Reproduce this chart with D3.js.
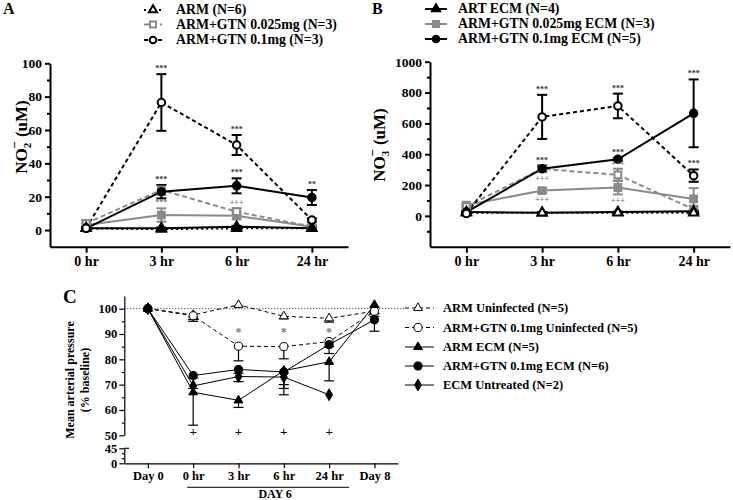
<!DOCTYPE html>
<html>
<head>
<meta charset="utf-8">
<script src="https://cdn.jsdelivr.net/npm/d3@7"></script>
<style>
body { margin: 0; background: #fff; }
svg, svg text { font-family: "Liberation Serif", "Times New Roman", serif; font-weight: bold; }
</style>
</head>
<body>
<svg id="chart" width="733" height="500"></svg>
<script>
// categories
const hoursAB = ['0 hr', '3 hr', '6 hr', '24 hr'];
const daysC = ['Day 0', '0 hr', '3 hr', '6 hr', '24 hr', 'Day 8'];

// legend labels
const legendA = ['ARM (N=6)', 'ARM+GTN 0.025mg (N=3)', 'ARM+GTN 0.1mg (N=3)'];
const legendB = ['ART ECM (N=4)', 'ARM+GTN 0.025mg ECM (N=3)', 'ARM+GTN 0.1mg ECM (N=5)'];
const legendC = ['ARM Uninfected (N=5)', 'ARM+GTN 0.1mg Uninfected (N=5)', 'ARM ECM (N=5)',
    'ARM+GTN 0.1mg ECM (N=6)', 'ECM Untreated (N=2)'];

// panel A - nitrite (uM), mean / sem
const no2Arm = [1, 0.5, 1, 1];
const no2ArmErr = [0.5, 0.5, 0.5, 0.5];
const no2Gtn025 = [4, 24, 11, 2];
const no2Gtn025Err = [2, 3, 2, 1];
const no2Gtn01 = [1, 76.5, 51, 6];
const no2Gtn01Err = [0.5, 17, 6, 1];
const no2ArmEcm = [1, 1, 2, 1];
const no2ArmEcmErr = [0.5, 0.5, 0.5, 0.5];
const no2Gtn025Ecm = [3, 9, 8.5, 2];
const no2Gtn025EcmErr = [1, 4, 2, 1];
const no2Gtn01Ecm = [1, 23, 26.5, 19.5];
const no2Gtn01EcmErr = [0.5, 4, 4.5, 4.5];

// panel B - nitrate (uM), mean / sem
const no3Arm = [20, 20, 20, 20];
const no3ArmErr = [3, 3, 3, 3];
const no3Gtn025 = [60, 305, 266, 43];
const no3Gtn025Err = [10, 20, 40, 20];
const no3Gtn01 = [15, 642, 713, 261];
const no3Gtn01Err = [5, 143, 80, 40];
const no3ArmEcm = [25, 20, 25, 30];
const no3ArmEcmErr = [3, 3, 3, 3];
const no3Gtn025Ecm = [70, 164, 184, 110];
const no3Gtn025EcmErr = [10, 15, 45, 70];
const no3Gtn01Ecm = [25, 306, 367, 665];
const no3Gtn01EcmErr = [5, 20, 10, 220];

// significance marks
const sigA01Up = ['', '***', '***', ''];
const sigA01EcmUp = ['', '***', '***', '**'];
const sigA025EcmUp = ['', '***', '', ''];
const sigA025Up = ['', '', '+++', ''];
const sigB01Up = ['', '***', '***', '***'];
const sigB01EcmUp = ['', '***', '***', '***'];
const sigB01EcmDown = ['', '+++', '', ''];
const sigB025Up = ['', '', '+++', ''];
const sigB025EcmDown = ['', '+++', '+++', ''];

// panel C - mean arterial pressure (% baseline), mean / sem (lower bar only)
const mapArm = [100, 97.5, 101.5, 97, 96.2, 99];
const mapArmErr = [0, 2.5, 0.5, 1, 1.5, 1];
const mapGtn01 = [100, 97.2, 85.2, 85, 87, 99];
const mapGtn01Err = [0, 1.5, 5.8, 4.8, 2, 2];
const mapArmEcm = [100, 67, 63.8, 75.5, 79, 101.5];
const mapArmEcmErr = [0, 13, 2.8, 7, 7.5, 1];
const mapGtn01Ecm = [100, 73.6, 76, 75, 85.8, 95.6];
const mapGtn01EcmErr = [0, 1, 1.5, 5, 3.5, 4.5];
const mapUntreated = [100, 69.5, 73.2, 73, 66, null];
const mapUntreatedErr = [0, 1, 2, 7, 0, null];
const sigCStar = ['', '', '*', '*', '*', ''];
const sigCPlus = ['', '+', '+', '+', '+', ''];

const GRAY = '#8a8a8a';
const styles = {
    armUninf: {symbol: d3.symbolTriangle, color: '#000', open: true, dash: '2,3'},
    gtn025Uninf: {symbol: d3.symbolSquare, color: GRAY, open: true, dash: '5,3'},
    gtn01Uninf: {symbol: d3.symbolCircle, color: '#000', open: true, dash: '4,3'},
    armEcm: {symbol: d3.symbolTriangle, color: '#000', open: false, dash: null},
    gtn025Ecm: {symbol: d3.symbolSquare, color: GRAY, open: false, dash: null},
    gtn01Ecm: {symbol: d3.symbolCircle, color: '#000', open: false, dash: null},
    untreated: {symbol: d3.symbolDiamond, color: '#000', open: false, dash: null},
};

// symbol areas per shape, so shapes look about equal in size
const sizeAB = s => (s === d3.symbolTriangle ? 36 : s === d3.symbolSquare ? 46 : 44);
const sizeC = s => (s === d3.symbolTriangle ? 34 : s === d3.symbolDiamond ? 40 : 52);

const svg = d3.select('#chart');

const addMarker = (g, style, x, y, size, sw) => g.append('path')
    .attr('d', d3.symbol().type(style.symbol).size(size)())
    .attr('transform', `translate(${x},${y})`)
    .attr('fill', style.open ? '#fff' : style.color)
    .attr('stroke', style.color)
    .attr('stroke-width', sw);

const styleAxis = (g, sw, fontSize) => {
    g.attr('font-family', null).attr('font-size', fontSize);
    g.selectAll('path, line').attr('stroke', '#000').attr('stroke-width', sw);
    g.selectAll('text').attr('font-size', fontSize).attr('fill', '#000');
};

/**
 * panels A and B
 * */
const drawTimePanel = (cfg) => {
    const g = svg.append('g');
    const x = d3.scalePoint().domain(hoursAB).range(cfg.xRange).padding(0.48);
    const y = d3.scaleLinear().domain(cfg.yDomain).range(cfg.yRange);

    g.append('g').attr('transform', `translate(0,${cfg.yRange[0]})`)
        .call(d3.axisBottom(x).tickSize(6).tickSizeOuter(0).tickPadding(3))
        .call(a => styleAxis(a, 2, 14));
    g.append('g').attr('transform', `translate(${cfg.xRange[0]},0)`)
        .call(d3.axisLeft(y).tickValues(cfg.ticks).tickFormat(d3.format('d'))
            .tickSize(5).tickSizeOuter(0).tickPadding(3))
        .call(a => styleAxis(a, 2, 13.5));
    g.append('g').attr('transform', `translate(${cfg.xRange[0]},0)`)
        .call(d3.axisLeft(y).tickValues(cfg.minor).tickSize(3).tickFormat(''))
        .call(a => a.select('.domain').remove())
        .call(a => styleAxis(a, 2, 13));

    const line = d3.line().x((d, i) => x(hoursAB[i])).y(d => y(d));
    cfg.series.forEach((s) => {
        g.append('path').datum(s.mean).attr('d', line)
            .attr('fill', 'none').attr('stroke', s.style.color)
            .attr('stroke-width', 2).attr('stroke-dasharray', s.style.dash);
    });
    cfg.series.forEach((s) => {
        s.mean.forEach((m, i) => {
            const cx = x(hoursAB[i]);
            const e = s.err[i];
            const eg = g.append('g').attr('stroke', s.style.color).attr('stroke-width', 2);
            eg.append('line').attr('x1', cx).attr('x2', cx).attr('y1', y(m - e)).attr('y2', y(m + e));
            [m - e, m + e].forEach(v => eg.append('line')
                .attr('x1', cx - 5).attr('x2', cx + 5).attr('y1', y(v)).attr('y2', y(v)));
        });
    });
    cfg.series.forEach((s) => {
        s.mean.forEach((m, i) => addMarker(g, s.style, x(hoursAB[i]), y(m), sizeAB(s.style.symbol), 2));
    });
    cfg.sigs.forEach((sg) => {
        sg.labels.forEach((t, i) => {
            if (!t) return;
            const m = sg.series.mean[i];
            const e = sg.series.err[i];
            const yy = sg.up ? y(m + e) - 3 : y(m - e) + 9;
            g.append('text').attr('x', x(hoursAB[i])).attr('y', yy)
                .attr('text-anchor', 'middle').attr('font-size', 8).attr('font-weight', 'normal')
                .attr('fill', sg.color).text(t);
        });
    });

    // y label
    const lab = g.append('text').attr('transform', `translate(${cfg.labelX},${cfg.labelY}) rotate(-90)`)
        .attr('text-anchor', 'middle').attr('font-size', 17);
    lab.append('tspan').text('NO');
    lab.append('tspan').attr('font-size', 11).attr('dy', 4).text(cfg.sub);
    lab.append('tspan').attr('font-size', 13).attr('dx', -6).attr('dy', -12).text('−');
    lab.append('tspan').attr('dy', 8).text(' (uM)');

    // panel letter
    g.append('text').attr('x', cfg.letterX).attr('y', 14).attr('font-size', 16).text(cfg.letter);

    // legend
    cfg.legend.forEach((name, i) => {
        const ly = cfg.legendY[i];
        const st = cfg.legendStyles[i];
        g.append('line').attr('x1', cfg.legendX - cfg.legendHalf).attr('x2', cfg.legendX + cfg.legendHalf)
            .attr('y1', ly - 4).attr('y2', ly - 4)
            .attr('stroke', st.color).attr('stroke-width', 2).attr('stroke-dasharray', st.dash);
        addMarker(g, st, cfg.legendX, ly - 4, sizeAB(st.symbol) * 0.8, 2);
        g.append('text').attr('x', cfg.legendTextX).attr('y', ly).attr('font-size', 13.8).text(name);
    });
};

const mk = (mean, err, style) => ({mean, err, style});

const sA = {
    arm: mk(no2Arm, no2ArmErr, styles.armUninf),
    g025: mk(no2Gtn025, no2Gtn025Err, styles.gtn025Uninf),
    g01: mk(no2Gtn01, no2Gtn01Err, styles.gtn01Uninf),
    armE: mk(no2ArmEcm, no2ArmEcmErr, styles.armEcm),
    g025E: mk(no2Gtn025Ecm, no2Gtn025EcmErr, styles.gtn025Ecm),
    g01E: mk(no2Gtn01Ecm, no2Gtn01EcmErr, styles.gtn01Ecm),
};
drawTimePanel({
    xRange: [50, 348], yDomain: [-10, 100], yRange: [246.7, 63.3],
    ticks: [0, 20, 40, 60, 80, 100], minor: [10, 30, 50, 70, 90],
    series: [sA.g025E, sA.g025, sA.arm, sA.armE, sA.g01E, sA.g01],
    sigs: [
        {series: sA.g01, labels: sigA01Up, up: true, color: '#333'},
        {series: sA.g01E, labels: sigA01EcmUp, up: true, color: '#333'},
        {series: sA.g025E, labels: sigA025EcmUp, up: true, color: '#777'},
        {series: sA.g025, labels: sigA025Up, up: true, color: '#777'},
    ],
    sub: '2', labelX: 27, labelY: 137, letter: 'A', letterX: 3,
    legend: legendA, legendStyles: [styles.armUninf, styles.gtn025Uninf, styles.gtn01Uninf],
    legendX: 153, legendHalf: 9, legendTextX: 176, legendY: [14, 28.5, 44],
});

const sB = {
    arm: mk(no3Arm, no3ArmErr, styles.armUninf),
    g025: mk(no3Gtn025, no3Gtn025Err, styles.gtn025Uninf),
    g01: mk(no3Gtn01, no3Gtn01Err, styles.gtn01Uninf),
    armE: mk(no3ArmEcm, no3ArmEcmErr, styles.armEcm),
    g025E: mk(no3Gtn025Ecm, no3Gtn025EcmErr, styles.gtn025Ecm),
    g01E: mk(no3Gtn01Ecm, no3Gtn01EcmErr, styles.gtn01Ecm),
};
drawTimePanel({
    xRange: [430, 730], yDomain: [-200, 1000], yRange: [246.7, 61.7],
    ticks: [0, 200, 400, 600, 800, 1000], minor: [-100, 100, 300, 500, 700, 900],
    series: [sB.g025E, sB.g025, sB.armE, sB.arm, sB.g01E, sB.g01],
    sigs: [
        {series: sB.g01, labels: sigB01Up, up: true, color: '#333'},
        {series: sB.g01E, labels: sigB01EcmUp, up: true, color: '#333'},
        {series: sB.g01E, labels: sigB01EcmDown, up: false, color: '#777'},
        {series: sB.g025, labels: sigB025Up, up: true, color: '#777'},
        {series: sB.g025E, labels: sigB025EcmDown, up: false, color: '#777'},
    ],
    sub: '3', labelX: 385, labelY: 145, letter: 'B', letterX: 372,
    legend: legendB, legendStyles: [styles.armEcm, styles.gtn025Ecm, styles.gtn01Ecm],
    legendX: 436, legendHalf: 11, legendTextX: 458, legendY: [13, 28, 43],
});

/**
 * panel C
 * */
const gC = svg.append('g');
const xC = d3.scalePoint().domain(daysC).range([124.3, 398]).padding(0.52);
const yC = d3.scaleLinear().domain([50, 105]).range([435.3, 296]);
const yCLow = d3.scaleLinear().domain([0, 45]).range([463.3, 448.3]);
const yMap = v => (v >= 50 ? yC(v) : yCLow(v));

gC.append('g').attr('transform', 'translate(0,463.3)')
    .call(d3.axisBottom(xC).tickSize(5).tickSizeOuter(0).tickPadding(3))
    .call(a => styleAxis(a, 1.2, 12.5));
gC.append('g').attr('transform', 'translate(124.3,0)')
    .call(d3.axisLeft(yC).tickValues([50, 60, 70, 80, 90, 100]).tickSize(5).tickSizeOuter(0).tickPadding(2))
    .call(a => styleAxis(a, 1.2, 12.5));
gC.append('g').attr('transform', 'translate(124.3,0)')
    .call(d3.axisLeft(yC).tickValues([55, 65, 75, 85, 95]).tickSize(2.5).tickFormat(''))
    .call(a => a.select('.domain').remove())
    .call(a => styleAxis(a, 1.2, 12));
gC.append('g').attr('transform', 'translate(124.3,0)')
    .call(d3.axisLeft(yCLow).tickValues([0, 45]).tickSize(5).tickSizeOuter(0).tickPadding(2))
    .call(a => styleAxis(a, 1.2, 12.5));
gC.append('g').attr('transform', 'translate(124.3,0)')
    .call(d3.axisLeft(yCLow).tickValues([15, 30]).tickSize(2.5).tickFormat(''))
    .call(a => a.select('.domain').remove())
    .call(a => styleAxis(a, 1.2, 12));
gC.append('line').attr('x1', 124.3).attr('x2', 129).attr('y1', yCLow(45)).attr('y2', yCLow(45))
    .attr('stroke', '#000').attr('stroke-width', 1.2);

// baseline
gC.append('line').attr('x1', 124.3).attr('x2', 405).attr('y1', yC(100)).attr('y2', yC(100))
    .attr('stroke', '#000').attr('stroke-width', 0.9).attr('stroke-dasharray', '1,2');

const seriesC = [
    mk(mapArm, mapArmErr, styles.armUninf),
    mk(mapGtn01, mapGtn01Err, styles.gtn01Uninf),
    mk(mapArmEcm, mapArmEcmErr, styles.armEcm),
    mk(mapGtn01Ecm, mapGtn01EcmErr, styles.gtn01Ecm),
    mk(mapUntreated, mapUntreatedErr, styles.untreated),
];
const cDash = ['4,3', '4,3', null, null, null];
const lineC = d3.line().defined(d => d !== null).x((d, i) => xC(daysC[i])).y(d => yMap(d));
seriesC.forEach((s, k) => {
    gC.append('path').datum(s.mean).attr('d', lineC)
        .attr('fill', 'none').attr('stroke', '#000').attr('stroke-width', 1)
        .attr('stroke-dasharray', cDash[k]);
});
seriesC.forEach((s) => {
    s.mean.forEach((m, i) => {
        if (m === null || !s.err[i]) return;
        const cx = xC(daysC[i]);
        const lo = yMap(m - s.err[i]);
        gC.append('line').attr('x1', cx).attr('x2', cx).attr('y1', yMap(m)).attr('y2', lo)
            .attr('stroke', '#000').attr('stroke-width', 1.2);
        gC.append('line').attr('x1', cx - 5).attr('x2', cx + 5).attr('y1', lo).attr('y2', lo)
            .attr('stroke', '#000').attr('stroke-width', 1.2);
    });
});
seriesC.forEach((s) => {
    s.mean.forEach((m, i) => {
        if (m === null) return;
        addMarker(gC, s.style, xC(daysC[i]), yMap(m), sizeC(s.style.symbol), 1);
    });
});
sigCStar.forEach((t, i) => {
    if (t) gC.append('text').attr('x', xC(daysC[i])).attr('y', yC(89.3)).attr('text-anchor', 'middle')
        .attr('font-size', 12).attr('font-weight', 'normal').attr('fill', '#777').text(t);
});
sigCPlus.forEach((t, i) => {
    if (t) gC.append('text').attr('x', xC(daysC[i])).attr('y', yC(49.8)).attr('text-anchor', 'middle')
        .attr('font-size', 13).attr('font-weight', 'normal').attr('fill', '#000').text(t);
});

// DAY 6 bracket
const d6a = xC('0 hr') - 6;
const d6b = xC('24 hr') + 20;
gC.append('line').attr('x1', d6a).attr('x2', d6b).attr('y1', 487.3).attr('y2', 487.3)
    .attr('stroke', '#000').attr('stroke-width', 1);
gC.append('text').attr('x', (d6a + d6b) / 2 + 7).attr('y', 497.5).attr('text-anchor', 'middle')
    .attr('font-size', 12).text('DAY 6');

gC.append('text').attr('x', 63).attr('y', 303).attr('font-size', 19).text('C');
gC.append('text').attr('transform', 'translate(74,380) rotate(-90)').attr('text-anchor', 'middle')
    .attr('font-size', 12).text('Mean arterial pressure');
gC.append('text').attr('transform', 'translate(89,380) rotate(-90)').attr('text-anchor', 'middle')
    .attr('font-size', 12).text('(% baseline)');

// legend C
const legendCY = [312, 331.5, 351, 370, 389];
legendC.forEach((name, i) => {
    const ly = legendCY[i] - 4;
    const st = seriesC[i].style;
    gC.append('line').attr('x1', 405).attr('x2', 434).attr('y1', ly).attr('y2', ly)
        .attr('stroke', '#000').attr('stroke-width', 1).attr('stroke-dasharray', cDash[i]);
    addMarker(gC, st, 418, ly, sizeC(st.symbol), 1);
    gC.append('text').attr('x', 443).attr('y', legendCY[i]).attr('font-size', 12.5).text(name);
});
</script>
</body>
</html>
